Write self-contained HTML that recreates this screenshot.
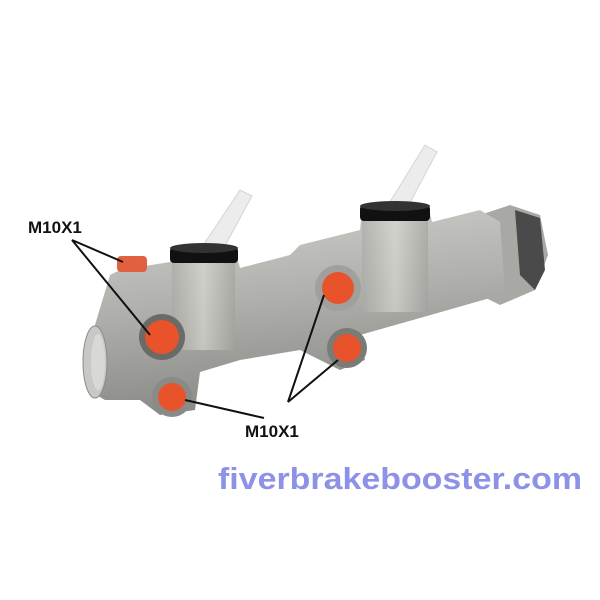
<!DOCTYPE html>
<html><head><style>body{margin:0;background:#fff}svg{display:block}</style></head><body>
<svg width="600" height="600" viewBox="0 0 600 600" xmlns="http://www.w3.org/2000/svg">
<defs>
<linearGradient id="g" x1="0" y1="0" x2="0.2" y2="1">
<stop offset="0" stop-color="#d0d0cc"/><stop offset="0.5" stop-color="#b0b0ac"/><stop offset="1" stop-color="#8a8a86"/>
</linearGradient>
<linearGradient id="t" x1="0" y1="0" x2="1" y2="0">
<stop offset="0" stop-color="#a8a8a4"/><stop offset="0.5" stop-color="#deded8"/><stop offset="1" stop-color="#a0a09c"/>
</linearGradient>
</defs>
<path d="M200 250 L240 190 L252 196 L220 255 Z" fill="#ececec" stroke="#d4d4d4"/>
<path d="M385 210 L425 145 L437 152 L405 212 Z" fill="#ececec" stroke="#d4d4d4"/>
<path d="M480 215 L510 205 L540 215 L548 255 L535 290 L500 305 L480 295 Z" fill="#a8a8a4"/>
<path d="M515 210 L540 218 L545 270 L535 290 L520 275 Z" fill="#4a4a4a"/>
<path d="M95 325 L110 275 L120 270 L170 262 L172 255 L235 250 L240 268 L290 255 L300 245 L360 230 L362 210 L428 205 L432 222 L480 210 L500 222 L505 292 L490 298 L420 318 L360 335 L365 360 L340 370 L300 350 L240 360 L200 372 L195 410 L160 415 L140 400 L105 400 L88 390 Z" fill="url(#g)"/>
<rect x="172" y="255" width="63" height="95" fill="url(#t)" opacity="0.6"/>
<rect x="362" y="212" width="66" height="100" fill="url(#t)" opacity="0.6"/>
<ellipse cx="95" cy="362" rx="12" ry="36" fill="#c8c8c4" stroke="#8a8a86"/>
<ellipse cx="98" cy="362" rx="7" ry="28" fill="#d8d8d4"/>
<rect x="170" y="247" width="68" height="16" rx="4" fill="#111"/>
<ellipse cx="204" cy="248" rx="34" ry="5" fill="#333"/>
<rect x="360" y="205" width="70" height="16" rx="4" fill="#111"/>
<ellipse cx="395" cy="206" rx="35" ry="5" fill="#333"/>
<circle cx="162" cy="337" r="23" fill="#6a6a66"/>
<circle cx="172" cy="397" r="20" fill="#8a8a86"/>
<circle cx="338" cy="288" r="23" fill="#a0a09c"/>
<circle cx="347" cy="348" r="20" fill="#7a7a76"/>
<circle cx="162" cy="337" r="17" fill="#e8532c"/>
<circle cx="172" cy="397" r="14" fill="#e8532c"/>
<circle cx="338" cy="288" r="16" fill="#e8532c"/>
<circle cx="347" cy="348" r="14" fill="#e8532c"/>
<rect x="117" y="256" width="30" height="16" rx="4" fill="#e06040"/>
<g stroke="#111" stroke-width="2">
<line x1="72" y1="240" x2="123" y2="262"/>
<line x1="72" y1="240" x2="150" y2="335"/>
<line x1="185" y1="400" x2="264" y2="418"/>
<line x1="288" y1="402" x2="324" y2="295"/>
<line x1="288" y1="402" x2="338" y2="360"/>
</g>
<g font-family="Liberation Sans, sans-serif" font-weight="bold" font-size="17" fill="#111">
<text x="28" y="233">M10X1</text>
<text x="245" y="437">M10X1</text>
</g>
<text x="218" y="489" font-family="Liberation Sans, sans-serif" font-weight="bold" font-size="31" textLength="364" lengthAdjust="spacingAndGlyphs" fill="#8e92e6">fiverbrakebooster.com</text>
</svg>
</body></html>
